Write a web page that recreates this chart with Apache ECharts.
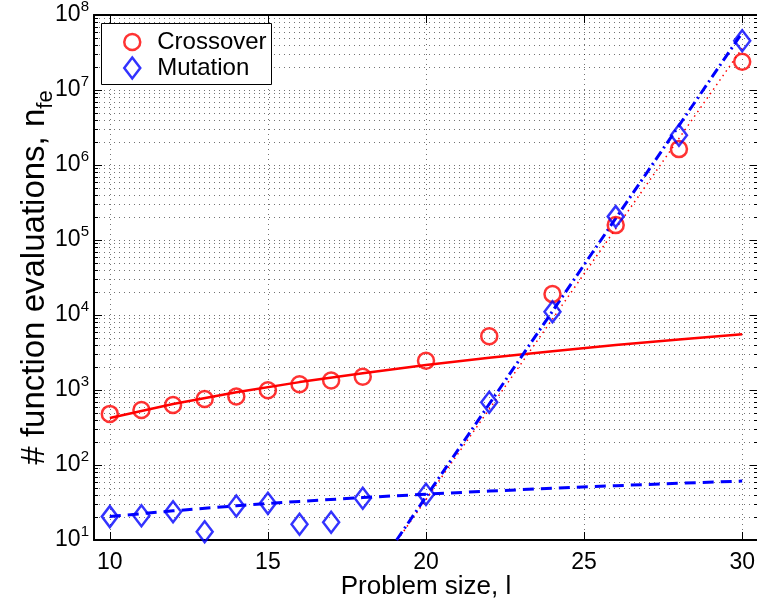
<!DOCTYPE html>
<html><head><meta charset="utf-8">
<script src="https://cdn.jsdelivr.net/npm/echarts@6/dist/echarts.min.js"></script>
<style>html,body{margin:0;padding:0;background:#fff}#c{width:757px;height:601px}</style>
</head><body><div id="c"></div>
<script>
// ---- data ----
const problemSizes   = [10, 11, 12, 13, 14, 15, 16, 17, 18, 20, 22, 24, 26, 28, 30];
const crossoverEvals = [480, 540, 630, 760, 820, 990, 1190, 1340, 1500, 2450, 5200, 19000, 158000, 1630000, 23800000];
const mutationEvals  = [20.5, 21, 23.8, 12.9, 28.4, 30.8, 16.2, 17.2, 36, 40.6, 686, 11070, 205000, 2500000, 45400000];

const crossoverFitX = [10, 12, 14, 16, 18, 20, 22, 24, 26, 28, 30];
const crossoverFitY = [424, 650, 932, 1274, 1677, 2147, 2683, 3289, 3967, 4718, 5546];
const crossoverExpX = [19.1, 30];
const crossoverExpY = [10, 36000000];

const mutationFitX = [10, 12, 14, 16, 18, 20, 22, 24, 26, 28, 30];
const mutationFitY = [20.5, 24.5, 28.6, 32.7, 36.8, 40.8, 44.9, 49, 53, 57, 61];
const mutationExpX = [19.07, 30];
const mutationExpY = [10, 58000000];

const xTickValues = [10, 15, 20, 25, 30];
const yDecades = [10, 100, 1000, 10000, 100000, 1000000, 10000000, 100000000];

// ---- helpers ----
const zip = (xs, ys) => xs.map((x, i) => [x, ys[i]]);
const FONT = '"Liberation Sans", Arial, Helvetica, sans-serif';
const X_MIN = 9.5, X_MAX = 30.5, Y_MIN = 10, Y_MAX = 100000000;
const RED = '#ff0000', BLUE = '#0000ff';
const GRID_DASH = [1, 4];

const yGridLines = [];
yDecades.forEach((d, i) => {
  yGridLines.push([X_MIN, d, 1]);
  if (i < yDecades.length - 1) for (let m = 2; m <= 9; m++) yGridLines.push([X_MIN, d * m, 0]);
});

const chart = echarts.init(document.getElementById('c'), null, {renderer: 'canvas'});
const option = {
  animation: false,
  backgroundColor: '#ffffff',
  grid: {left: 94, right: -1, top: 15, bottom: 61, containLabel: false, outerBoundsMode: 'none'},
  xAxis: [{
    type: 'value', min: X_MIN, max: X_MAX, interval: 0.5, position: 'bottom',
    axisLine: {show: true, onZero: false, lineStyle: {color: '#000', width: 2}},
    axisTick: {show: false}, splitLine: {show: false},
    axisLabel: {
      formatter: v => (xTickValues.indexOf(v) >= 0 ? String(v) : ''),
      color: '#000', fontSize: 23, fontFamily: FONT, margin: 11
    },
    name: 'Problem size, l', nameLocation: 'middle', nameGap: 34, nameMoveOverlap: false,
    nameTextStyle: {fontSize: 26, color: '#000', fontFamily: FONT}
  }, {
    type: 'value', min: X_MIN, max: X_MAX, position: 'top',
    axisLine: {show: true, onZero: false, lineStyle: {color: '#000', width: 2}},
    axisTick: {show: false}, axisLabel: {show: false}, splitLine: {show: false}
  }],
  yAxis: [{
    type: 'log', logBase: 10, min: Y_MIN, max: Y_MAX, position: 'left',
    axisLine: {show: true, onZero: false, lineStyle: {color: '#000', width: 2}},
    axisTick: {show: false}, splitLine: {show: false},
    axisLabel: {
      formatter: v => '{b|10}{s|' + Math.round(Math.log10(v)) + '}',
      margin: 5,
      rich: {
        b: {fontSize: 23, lineHeight: 32, fontFamily: FONT, color: '#000'},
        s: {fontSize: 15, lineHeight: 15, fontFamily: FONT, color: '#000', verticalAlign: 'top'}
      }
    },
    name: '# function evaluations, n{sub|fe}', nameLocation: 'middle', nameGap: 37, nameRotate: 90, nameMoveOverlap: false,
    nameTextStyle: {
      fontSize: 33, lineHeight: 44, color: '#000', fontFamily: FONT,
      rich: {sub: {fontSize: 22, lineHeight: 22, verticalAlign: 'bottom', color: '#000', fontFamily: FONT}}
    }
  }, {
    type: 'log', logBase: 10, min: Y_MIN, max: Y_MAX, position: 'right',
    axisLine: {show: true, onZero: false, lineStyle: {color: '#000', width: 2}},
    axisTick: {show: false}, axisLabel: {show: false}, splitLine: {show: false}
  }],
  legend: [{
    data: [{name: 'Crossover', icon: 'circle', itemStyle: {color: 'transparent', borderColor: RED, borderWidth: 2.5}}],
    left: 123, top: 30, itemWidth: 40, itemHeight: 16, padding: 0, selectedMode: false, z: 20,
    textStyle: {fontSize: 24, fontFamily: FONT, color: '#000'}
  }, {
    data: [{name: 'Mutation', icon: 'path://M8,0L16,10.5L8,21L0,10.5Z', itemStyle: {color: 'transparent', borderColor: BLUE, borderWidth: 2.5}}],
    left: 123, top: 56, itemWidth: 40, itemHeight: 21, padding: 0, selectedMode: false, z: 20,
    textStyle: {fontSize: 24, fontFamily: FONT, color: '#000'}
  }],
  graphic: [{
    type: 'rect', z: 10, silent: true,
    shape: {x: 101.5, y: 23.5, width: 170, height: 61},
    style: {fill: '#fff', stroke: '#000', lineWidth: 1}
  }],
  series: [
    {
      type: 'custom', name: 'xgrid', silent: true, z: 1,
      data: xTickValues.map(v => [v, Y_MIN]),
      renderItem: (params, api) => {
        const b = api.coord([api.value(0), Y_MIN]);
        const t = api.coord([api.value(0), Y_MAX]);
        const x = Math.round(b[0]) + 0.5;
        return {type: 'group', children: [
          {type: 'line', shape: {x1: x, y1: b[1], x2: x, y2: t[1]}, style: {stroke: '#000', lineWidth: 1, lineDash: GRID_DASH, opacity: 0.55}},
          {type: 'line', shape: {x1: x, y1: b[1], x2: x, y2: b[1] - 8}, style: {stroke: '#000', lineWidth: 1}},
          {type: 'line', shape: {x1: x, y1: t[1], x2: x, y2: t[1] + 8}, style: {stroke: '#000', lineWidth: 1}}
        ]};
      }
    },
    {
      type: 'custom', name: 'ygrid', silent: true, z: 1,
      data: yGridLines,
      renderItem: (params, api) => {
        const v = api.value(1);
        const major = api.value(2) === 1;
        const l = api.coord([X_MIN, v]);
        const r = api.coord([X_MAX, v]);
        const y = Math.round(l[1]) + 0.5;
        const len = major ? 8 : 4;
        return {type: 'group', children: [
          {type: 'line', shape: {x1: l[0], y1: y, x2: r[0], y2: y}, style: {stroke: '#000', lineWidth: 1, lineDash: GRID_DASH, opacity: 0.55}},
          {type: 'line', shape: {x1: l[0], y1: y, x2: l[0] + len, y2: y}, style: {stroke: '#000', lineWidth: 1}},
          {type: 'line', shape: {x1: r[0], y1: y, x2: r[0] - len, y2: y}, style: {stroke: '#000', lineWidth: 1}}
        ]};
      }
    },
    {type: 'line', name: 'crossFit', data: zip(crossoverFitX, crossoverFitY), symbol: 'none', silent: true, z: 3,
     lineStyle: {color: RED, width: 2.5}},
    {type: 'line', name: 'crossExp', data: zip(crossoverExpX, crossoverExpY), symbol: 'none', silent: true, z: 3,
     lineStyle: {color: RED, width: 1.5, type: [1.5, 4]}},
    {type: 'line', name: 'mutFit', data: zip(mutationFitX, mutationFitY), symbol: 'none', silent: true, z: 3,
     lineStyle: {color: BLUE, width: 3, type: [11, 7]}},
    {type: 'line', name: 'mutExp', data: zip(mutationExpX, mutationExpY), symbol: 'none', silent: true, z: 3,
     lineStyle: {color: BLUE, width: 3, type: [10, 4, 2, 4]}},
    {type: 'scatter', name: 'Crossover', data: zip(problemSizes, crossoverEvals), symbol: 'circle', symbolSize: 16, silent: true, z: 4,
     itemStyle: {color: 'transparent', borderColor: RED, borderWidth: 2.5}},
    {type: 'scatter', name: 'Mutation', data: zip(problemSizes, mutationEvals), symbol: 'diamond', symbolSize: [16, 21], silent: true, z: 5,
     itemStyle: {color: 'transparent', borderColor: BLUE, borderWidth: 2.5}}
  ]
};
chart.setOption(option);
</script>
</body></html>
